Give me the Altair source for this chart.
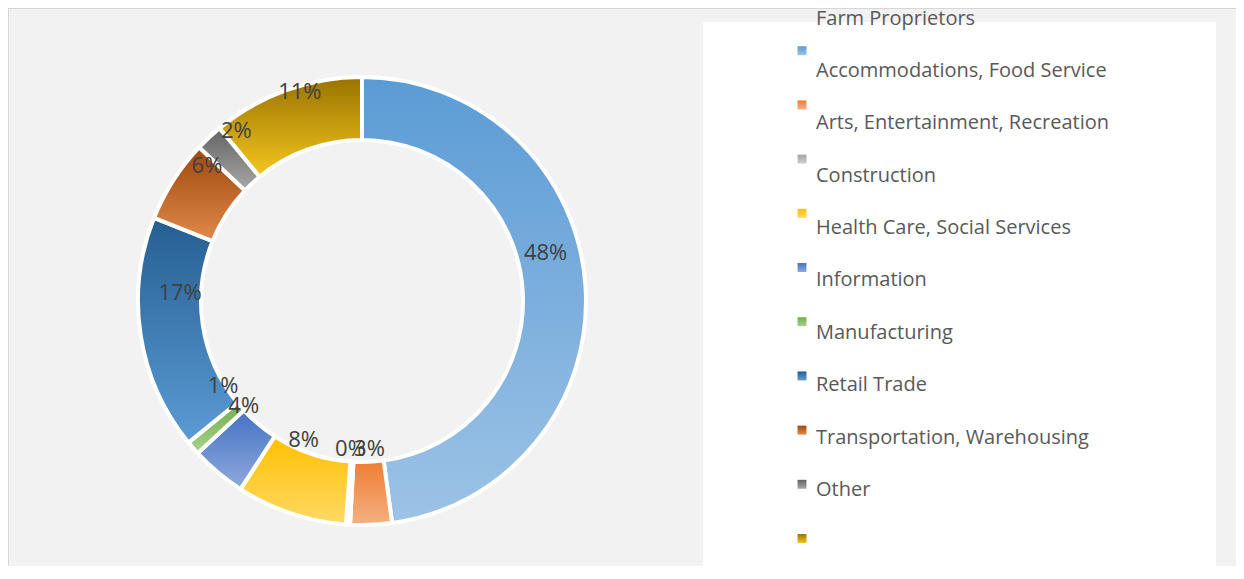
import altair as alt
import pandas as pd

# ---- data ----
categories = [
    "Accommodations, Food Service",
    "Arts, Entertainment, Recreation",
    "Construction",
    "Health Care, Social Services",
    "Information",
    "Manufacturing",
    "Retail Trade",
    "Transportation, Warehousing",
    "Other",
    "Farm Proprietors",
]
values = [48, 3, 0.3, 8, 4, 1, 17, 6, 2, 11]

# legend text as it appears in the reference (shifted one row up)
legend_labels = [
    "Farm Proprietors",
    "Accommodations, Food Service",
    "Arts, Entertainment, Recreation",
    "Construction",
    "Health Care, Social Services",
    "Information",
    "Manufacturing",
    "Retail Trade",
    "Transportation, Warehousing",
    "Other",
]

top_colors = ["#5B9BD5", "#ED7D31", "#A5A5A5", "#FFC000", "#4472C4",
              "#70AD47", "#255E91", "#9E480E", "#636363", "#997300"]
bottom_colors = ["#9DC3E6", "#F4B183", "#D0D0D0", "#FFD966", "#8FAADC",
                 "#A9D18E", "#5B9BD5", "#E0894A", "#A8A8A8", "#F5C61E"]

W, H = 1228, 558
CX, CY = 354, 293
R_OUT, R_IN = 224, 161

df = pd.DataFrame({"category": categories, "value": values, "order": list(range(len(values)))})
leg_df = pd.DataFrame({"label": legend_labels, "row": list(range(len(legend_labels)))})

FONT = "Open Sans"

base = (
    alt.Chart(df)
    .transform_window(cum="sum(value)", sort=[alt.SortField("order")], frame=[None, 0])
    .transform_joinaggregate(total="sum(value)")
    .transform_calculate(
        start="(datum.cum - datum.value) / datum.total",
        end="datum.cum / datum.total",
        mid="(datum.cum - datum.value / 2) / datum.total",
        pct="datum.value / datum.total",
    )
)

theta_scale = alt.Scale(domain=[0, 1])

def grad(i):
    return alt.LinearGradient(
        gradient="linear",
        stops=[alt.GradientStop(color=top_colors[i], offset=0),
               alt.GradientStop(color=bottom_colors[i], offset=1)],
        x1=0, x2=0, y1=0, y2=1,
    )

# border + legend box
frame = alt.Chart(pd.DataFrame({"a": [0]})).mark_rect(
    fill="#f2f2f2", stroke="#d6d6d6", strokeWidth=2
).encode(x=alt.value(0), x2=alt.value(W + 20), y=alt.value(0), y2=alt.value(H + 20))

legend_box = alt.Chart(pd.DataFrame({"a": [0]})).mark_rect(fill="white").encode(
    x=alt.value(695), x2=alt.value(1208), y=alt.value(14), y2=alt.value(H + 5)
)

layers = [frame, legend_box]

marker_y = alt.Y("order:Q", scale=alt.Scale(domain=[0, 9], range=[42.7, 530.5]), axis=None)

for i in range(len(values)):
    sub = base.transform_filter(alt.datum.order == i)
    layers.append(
        sub.mark_arc(radius=R_OUT, radius2=R_IN, fill=grad(i), stroke="white", strokeWidth=4).encode(
            theta=alt.Theta("start:Q", scale=theta_scale, stack=None),
            theta2="end:Q",
            x=alt.value(CX),
            y=alt.value(CY),
            tooltip=["category:N", "value:Q"],
        )
    )
    layers.append(
        sub.mark_square(size=80, fill=grad(i), opacity=1).encode(
            x=alt.value(794),
            y=marker_y,
        )
    )

labels = base.mark_text(
    radius=184, dy=-36, font=FONT, fontSize=22, color="#404040", align="center", baseline="middle"
).encode(
    theta=alt.Theta("mid:Q", scale=theta_scale, stack=None),
    text=alt.Text("pct:Q", format=".0%"),
    x=alt.value(CX),
    y=alt.value(CY),
)
layers.append(labels)

legend_text = alt.Chart(leg_df).mark_text(
    font=FONT, fontSize=20, color="#595959", align="left", baseline="middle"
).encode(
    x=alt.value(808),
    y=alt.Y("row:Q", scale=alt.Scale(domain=[0, 9], range=[10.5, 482]), axis=None),
    text="label:N",
)
layers.append(legend_text)

chart = (
    alt.layer(*layers)
    .resolve_scale(y="independent")
    .properties(width=W, height=H, padding=0, autosize=alt.AutoSizeParams(type="none"))
    .configure_view(stroke=None)
    .configure(background="#f2f2f2")
)

chart.save("out.html", embed_options={"renderer": "svg", "actions": False})
